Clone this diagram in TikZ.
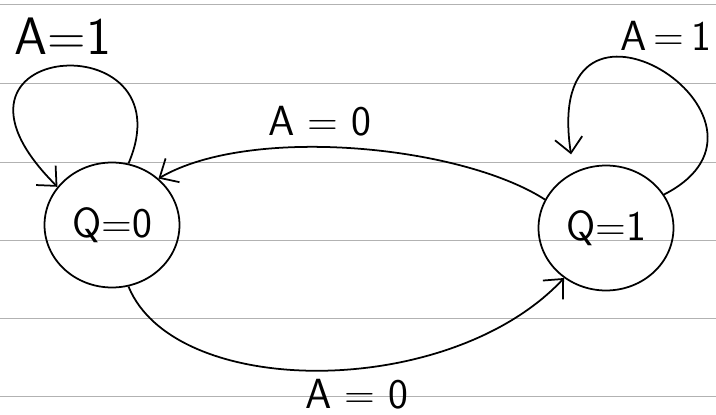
\documentclass[tikz,border=0pt]{standalone}
\usepackage{tikz}
\usetikzlibrary{shapes.geometric, arrows.meta}
\begin{document}
\begin{tikzpicture}[x=0.02cm, y=-0.02cm,
    state/.style={draw, ellipse, line width=1pt, minimum width=2.7cm, minimum height=2.5cm, inner sep=0pt, font=\sffamily\fontsize{24}{28}\selectfont},
    edge/.style={line width=1pt, -{Straight Barb[length=0.3cm, width=0.55cm]}},
    cond/.style={inner sep=1pt, font=\sffamily\fontsize{24}{28}\selectfont}]
  \useasboundingbox (0,0) rectangle (716,415);
  % ruled paper
  \foreach \y in {4,83,162,240,318,396}
    \draw[gray!60, line width=0.5pt] (0,\y) -- (716,\y);

  \node[state] (q0) at (112,225) {Q=0};
  \node[state] (q1) at (606,228) {Q=1};

  \draw[edge] (q1.155) .. controls (460,145) and (250,125) .. (q0.45);
  \draw[edge] (q0.-75) .. controls (175,400) and (450,400) .. (q1.-130);
  \draw[edge] (q0.75) .. controls (190,20) and (-90,40) .. (q0.145);
  \draw[edge, shorten >=0.36cm] (q1.30) .. controls (810,120) and (540,-50) .. (q1.120);

  \node[cond, font=\sffamily\fontsize{30}{34}\selectfont] (l1) at (63,36) {A=1};
  \node[cond] (l2) at (320,121) {A = 0};
  \node[cond] (l3) at (666,36) {A\,=\,1};
  \node[cond] (l4) at (357,394) {A = 0};
\end{tikzpicture}
\end{document}
